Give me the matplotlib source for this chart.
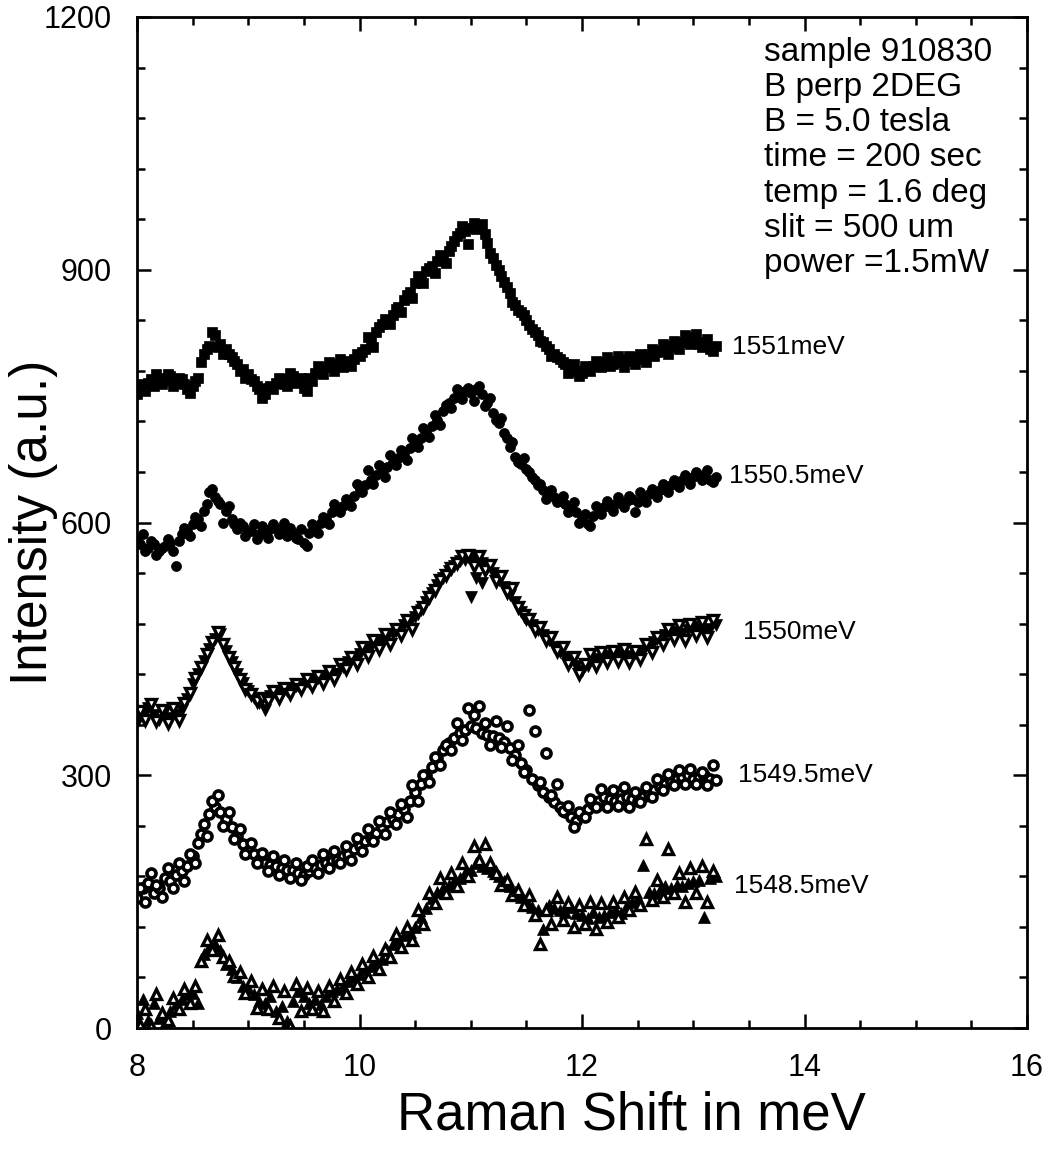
import numpy as np
import matplotlib
matplotlib.use("Agg")
import matplotlib.pyplot as plt

plt.rcParams['font.family'] = ['Liberation Sans', 'DejaVu Sans']

# ---------------- data ----------------
x_start_a = 8.0
x_start_b = 8.025
x_step = 0.05

s1551_a = [752, 760, 766, 762, 772, 768, 774, 766, 770, 758, 762, 772, 800, 810, 822, 812, 806, 796, 788, 782,
           776, 768, 758, 752, 762, 766, 770, 762, 774, 768, 760, 772, 778, 780, 784, 786, 788, 784, 792, 794,
           798, 806, 814, 826, 836, 840, 846, 856, 864, 874, 884, 890, 898, 904, 910, 914, 922, 934, 944, 946,
           950, 948, 954, 932, 914, 900, 886, 872, 858, 850, 840, 830, 822, 814, 806, 800, 794, 788, 784, 780,
           778, 782, 786, 788, 790, 786, 792, 790, 794, 792, 796, 794, 800, 798, 804, 806, 810, 808, 814, 816,
           820, 812, 814, 806, 810]
s1551_b = [764, 756, 770, 776, 764, 776, 762, 772, 764, 754, 768, 790, 806, 826, 808, 800, 800, 792, 780, 772,
           770, 762, 748, 760, 758, 772, 764, 778, 766, 772, 756, 768, 786, 776, 790, 780, 794, 790, 786, 800,
           802, 820, 808, 832, 842, 836, 854, 850, 870, 866, 892, 884, 902, 896, 918, 908, 928, 940, 952, 930,
           956, 950, 942, 920, 906, 892, 880, 862, 852, 846, 834, 826, 816, 810, 798, 796, 790, 778, 788, 774,
           786, 780, 792, 784, 796, 788, 798, 784, 798, 788, 800, 790, 806, 802, 812, 800, 816, 806, 822, 812,
           824, 808, 818, 804]

s15505_a = [580, 586, 570, 574, 566, 572, 576, 548, 586, 590, 598, 604, 614, 636, 630, 622, 614, 604, 592, 596,
            590, 598, 586, 588, 592, 594, 590, 584, 588, 580, 576, 588, 594, 600, 604, 612, 618, 620, 626, 632,
            640, 644, 650, 656, 660, 666, 672, 676, 680, 688, 694, 700, 708, 714, 722, 732, 742, 748, 752, 756,
            754, 758, 752, 742, 730, 718, 706, 690, 678, 670, 664, 654, 644, 638, 634, 630, 626, 622, 618, 612,
            604, 598, 608, 614, 618, 620, 622, 624, 626, 628, 624, 630, 634, 636, 638, 642, 644, 646, 650, 652,
            654, 656, 656, 650, 654]
s15505_b = [574, 566, 578, 562, 570, 580, 566, 578, 594, 584, 606, 596, 622, 640, 626, 600, 620, 598, 600, 584,
            590, 580, 596, 582, 598, 586, 600, 594, 582, 592, 572, 598, 588, 606, 598, 622, 612, 628, 620, 646,
            636, 662, 646, 668, 654, 680, 668, 686, 674, 700, 690, 712, 702, 728, 716, 740, 736, 758, 746, 760,
            744, 762, 738, 748, 722, 724, 700, 696, 672, 676, 660, 650, 646, 628, 638, 624, 632, 612, 624, 600,
            610, 596, 620, 610, 626, 614, 630, 618, 632, 612, 636, 624, 640, 630, 646, 636, 650, 642, 656, 646,
            660, 650, 662, 648]

s1550_a = [362, 372, 380, 372, 366, 376, 368, 372, 378, 390, 408, 420, 436, 450, 462, 468, 448, 434, 420, 410,
           400, 392, 386, 378, 394, 396, 398, 400, 404, 406, 408, 410, 412, 414, 418, 420, 420, 428, 434, 438,
           444, 448, 452, 456, 460, 464, 468, 472, 478, 482, 488, 496, 506, 516, 526, 534, 542, 548, 554, 556,
           558, 556, 552, 546, 540, 532, 524, 514, 506, 494, 484, 478, 472, 466, 460, 452, 446, 440, 436, 430,
           424, 430, 436, 438, 440, 442, 444, 442, 440, 442, 444, 448, 452, 458, 462, 466, 470, 468, 468, 472,
           476, 472, 470, 474, 478]
s1550_b = [376, 366, 384, 364, 378, 362, 380, 366, 386, 398, 416, 428, 444, 458, 470, 456, 440, 428, 414, 402,
           396, 388, 392, 388, 400, 392, 404, 396, 408, 402, 414, 406, 418, 410, 424, 414, 432, 426, 440, 432,
           452, 442, 460, 450, 468, 456, 474, 466, 484, 474, 494, 500, 512, 520, 532, 538, 546, 552, 560, 562,
           548, 560, 544, 550, 530, 536, 518, 522, 500, 490, 486, 472, 476, 460, 464, 448, 452, 432, 440, 420,
           432, 444, 430, 446, 434, 448, 436, 450, 434, 448, 438, 456, 446, 464, 456, 474, 462, 478, 460, 480,
           466, 482, 464, 484]
s1550_extra_x = [11.0, 11.1, 11.05]
s1550_extra_y = [512, 528, 534]

s15495_a = [154, 166, 172, 160, 166, 178, 174, 182, 186, 192, 204, 220, 242, 254, 262, 256, 248, 238, 228, 218,
            210, 206, 200, 196, 194, 192, 190, 188, 188, 184, 182, 186, 190, 194, 196, 198, 200, 204, 206, 212,
            216, 222, 226, 232, 238, 244, 248, 254, 260, 270, 280, 290, 300, 310, 320, 330, 338, 344, 350, 354,
            358, 356, 350, 348, 346, 344, 340, 332, 324, 314, 306, 296, 288, 280, 274, 268, 262, 256, 250, 246,
            252, 260, 266, 270, 274, 272, 270, 272, 274, 272, 270, 274, 278, 282, 286, 290, 292, 296, 298, 300,
            296, 298, 300, 296, 294]
s15495_b = [166, 150, 184, 170, 156, 190, 166, 196, 174, 206, 196, 230, 228, 270, 276, 240, 256, 224, 236, 206,
            220, 196, 208, 186, 204, 182, 200, 178, 196, 176, 192, 200, 184, 206, 190, 210, 196, 216, 200, 226,
            210, 236, 222, 246, 230, 256, 242, 266, 250, 288, 270, 300, 292, 322, 312, 336, 330, 362, 342, 380,
            372, 382, 362, 336, 364, 334, 358, 318, 336, 304, 378, 352, 292, 326, 276, 290, 258, 264, 238, 256,
            250, 272, 262, 284, 262, 282, 264, 286, 262, 280, 268, 286, 274, 296, 282, 302, 288, 306, 290, 308,
            290, 304, 288, 312]

s15485_a = [18, 34, 10, 30, 12, 6, 20, 28, 34, 40, 42, 30, 88, 96, 100, 92, 76, 70, 60, 50,
            48, 40, 32, 30, 38, 20, 26, 8, 32, 44, 38, 30, 34, 28, 38, 44, 46, 50, 56, 60,
            64, 70, 74, 78, 82, 92, 100, 106, 110, 114, 120, 132, 142, 154, 162, 166, 170, 174, 178, 184,
            188, 196, 192, 190, 186, 180, 174, 168, 162, 156, 152, 144, 140, 118, 146, 142, 140, 138, 144, 136,
            134, 130, 138, 132, 134, 138, 140, 136, 146, 150, 154, 194, 162, 160, 164, 168, 166, 170, 168, 172,
            174, 176, 132, 178, 180]
s15485_b = [4, 22, 2, 40, 18, 10, 36, 22, 46, 30, 50, 80, 104, 92, 110, 84, 80, 62, 66, 42,
            56, 24, 46, 22, 50, 12, 44, 2, 52, 20, 48, 22, 44, 20, 50, 32, 58, 42, 66, 52,
            76, 60, 86, 70, 94, 84, 112, 96, 120, 104, 140, 124, 160, 148, 178, 160, 184, 168, 196, 180,
            216, 200, 218, 196, 184, 170, 176, 158, 164, 146, 158, 134, 100, 140, 124, 156, 128, 148, 120, 146,
            124, 150, 118, 148, 126, 150, 132, 156, 140, 162, 146, 224, 152, 176, 156, 212, 160, 184, 150, 190,
            160, 192, 150, 186]

series_labels = ["1551meV", "1550.5meV", "1550meV", "1549.5meV", "1548.5meV"]
label_x = [13.35, 13.32, 13.45, 13.40, 13.37]
label_y = [808, 655, 470, 300, 168]

info_lines = ["sample 910830", "B perp 2DEG", "B = 5.0 tesla", "time = 200 sec",
              "temp = 1.6 deg", "slit = 500 um", "power =1.5mW"]

x_ticks = [8, 10, 12, 14, 16]
y_ticks = [0, 300, 600, 900, 1200]


def xs(vals, start):
    return start + x_step * np.arange(len(vals))


# ---------------- figure ----------------
W, H = 1052, 1158
fig = plt.figure(figsize=(W / 100, H / 100), dpi=100)
left, right, top, bottom = 137, 1027, 17, 1028
ax = fig.add_axes([left / W, 1 - bottom / H, (right - left) / W, (bottom - top) / H])

k = 'black'
# squares
ax.plot(xs(s1551_a, x_start_a), s1551_a, ls='none', marker='s', ms=7.5, mfc=k, mec=k, mew=0.5)
ax.plot(xs(s1551_b, x_start_b), s1551_b, ls='none', marker='s', ms=7.5, mfc=k, mec=k, mew=0.5)
# filled circles
ax.plot(xs(s15505_a, x_start_a), s15505_a, ls='none', marker='o', ms=7.2, mfc=k, mec=k, mew=0.5)
ax.plot(xs(s15505_b, x_start_b), s15505_b, ls='none', marker='o', ms=7.2, mfc=k, mec=k, mew=0.5)
# down triangles (filled + open)
ax.plot(xs(s1550_a, x_start_a), s1550_a, ls='none', marker='v', ms=9, mfc=k, mec=k, mew=0.5)
ax.plot(s1550_extra_x, s1550_extra_y, ls='none', marker='v', ms=9, mfc=k, mec=k, mew=0.5)
ax.plot(xs(s1550_b, x_start_b), s1550_b, ls='none', marker='v', ms=7.5, mfc='white', mec=k, mew=2.4)
# open circles
ax.plot(xs(s15495_a, x_start_a), s15495_a, ls='none', marker='o', ms=6.5, mfc='white', mec=k, mew=2.6)
ax.plot(xs(s15495_b, x_start_b), s15495_b, ls='none', marker='o', ms=6.5, mfc='white', mec=k, mew=2.6)
# up triangles (filled + open)
ax.plot(xs(s15485_a, x_start_a), s15485_a, ls='none', marker='^', ms=9, mfc=k, mec=k, mew=0.5)
ax.plot(xs(s15485_b, x_start_b), s15485_b, ls='none', marker='^', ms=7.5, mfc='white', mec=k, mew=2.4)

for lab, lx, ly in zip(series_labels, label_x, label_y):
    ax.text(lx, ly, lab, fontsize=19, va='center', ha='left')

ax.text(13.64, 1176, "\n".join(info_lines), fontsize=24, va='top', ha='left', linespacing=1.17)

ax.set_xlim(8, 16)
ax.set_ylim(0, 1200)
ax.set_xticks(x_ticks)
ax.set_yticks(y_ticks)
ax.set_xticks(np.arange(8, 16.01, 0.5), minor=True)
ax.set_yticks(np.arange(0, 1200.1, 60), minor=True)
ax.tick_params(which='both', direction='in', top=True, right=True, width=1.8, labelsize=22)
ax.tick_params(which='major', length=10)
ax.tick_params(which='minor', length=6)
ax.tick_params(axis='x', pad=18)
ax.tick_params(axis='y', pad=18)
for sp in ax.spines.values():
    sp.set_linewidth(2.0)

ax.set_xlabel("Raman Shift in meV", fontsize=38)
ax.xaxis.set_label_coords(0.556, -0.062)
ax.set_ylabel("Intensity (a.u.)", fontsize=37)
ax.yaxis.set_label_coords(-0.089, 0.5)

fig.savefig("out.png", dpi=100)
